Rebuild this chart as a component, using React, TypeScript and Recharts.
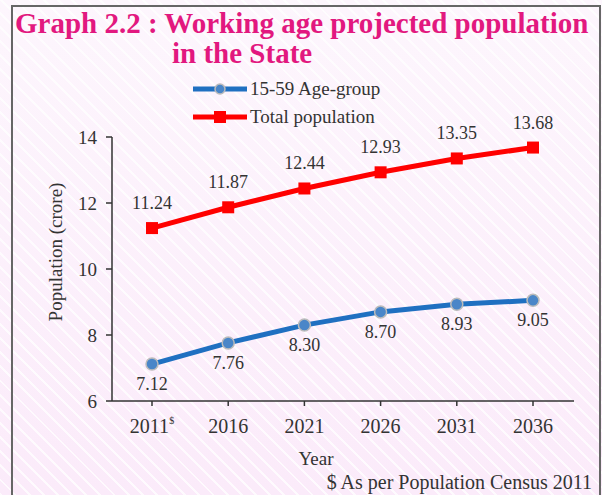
import React from 'react';
import { LineChart, Line, XAxis, YAxis, LabelList } from 'recharts';

const years = ['2011', '2016', '2021', '2026', '2031', '2036'];
const ageGroup = [7.12, 7.76, 8.3, 8.7, 8.93, 9.05];
const totalPop = [11.24, 11.87, 12.44, 12.93, 13.35, 13.68];
const yTicks = [6, 8, 10, 12, 14];
const censusYear = '2011';

const data = years.map((year, i) => ({ year, ageGroup: ageGroup[i], total: totalPop[i] }));

const serif = '"Liberation Serif", "Times New Roman", serif';
const pink = '#E2187F';
const blue = '#1F70C1';
const red = '#FF0000';
const ink = '#333';

const YearTick = ({ x, y, payload }: any) => (
  <text x={x} y={y} dy="0.71em" textAnchor="middle" fontFamily={serif} fontSize={20} fill={ink}>
    {payload.value}
    {payload.value === censusYear && (
      <tspan dy={-9} fontSize={10}>$</tspan>
    )}
  </text>
);

const SquareDot = (props: any) => {
  const { cx, cy, index } = props;
  return <rect key={`sq-${index}`} x={cx - 6} y={cy - 6} width={12} height={12} fill={red} />;
};

const legendItems = [
  { label: '15-59 Age-group', color: blue, shape: 'circle' },
  { label: 'Total population', color: red, shape: 'square' },
];

const LegendBox = () => (
  <div style={{ position: 'absolute', left: 193, top: 75, fontFamily: serif, fontSize: 19, color: ink }}>
    {legendItems.map((it) => (
      <div key={it.label} style={{ display: 'flex', alignItems: 'center', height: 28 }}>
        <svg width={54} height={14} style={{ marginRight: 3 }}>
          <line x1={0} y1={7} x2={54} y2={7} stroke={it.color} strokeWidth={5} />
          {it.shape === 'circle' ? (
            <circle cx={27} cy={7} r={5} fill="#4A86C8" stroke="#bbb" strokeWidth={1.5} />
          ) : (
            <rect x={21} y={1} width={12} height={12} fill={it.color} />
          )}
        </svg>
        <span>{it.label}</span>
      </div>
    ))}
  </div>
);

export default function App() {
  return (
    <div
      style={{
        position: 'fixed',
        left: 0,
        top: 0,
        width: 602,
        height: 495,
        overflow: 'hidden',
        background:
          'repeating-linear-gradient(45deg, rgba(255,255,255,0.75) 0px, rgba(255,255,255,0.75) 2px, rgba(255,255,255,0) 2px, rgba(255,255,255,0) 10px), linear-gradient(#FDF6FD, #FBEBFA)',
      }}
    >
      <div
        style={{
          position: 'absolute',
          left: 11,
          top: 5,
          width: 586,
          height: 520,
          borderLeft: '2px solid #666',
          borderTop: '2px solid #666',
          borderRight: '2px solid #666',
        }}
      />
      <div
        style={{
          position: 'absolute',
          left: 0,
          top: 8,
          width: 602,
          fontFamily: serif,
          fontWeight: 'bold',
          fontSize: 29,
          color: pink,
          lineHeight: '30px',
        }}
      >
        <div style={{ paddingLeft: 15, whiteSpace: 'nowrap' }}>Graph 2.2 : Working age projected population</div>
        <div style={{ paddingLeft: 172 }}>in the State</div>
      </div>
      <LegendBox />
      <LineChart
        width={602}
        height={495}
        data={data}
        margin={{ top: 137, right: 28, bottom: 64, left: 20 }}
        style={{ position: 'absolute', left: 0, top: 0 }}
      >
        <XAxis
          dataKey="year"
          padding={{ left: 40, right: 41 }}
          axisLine={{ stroke: ink, strokeWidth: 1.5 }}
          tickLine={{ stroke: ink, strokeWidth: 1.5 }}
          tickSize={5}
          tickMargin={13}
          height={30}
          tick={<YearTick />}
          label={{
            content: ({ viewBox }: any) => (
              <text
                x={viewBox.x + viewBox.width / 2 - 27}
                y={viewBox.y + 64}
                textAnchor="middle"
                fontFamily={serif}
                fontSize={19}
                fill={ink}
              >
                Year
              </text>
            ),
          }}
        />
        <YAxis
          domain={[6, 14]}
          ticks={yTicks}
          width={92}
          axisLine={{ stroke: ink, strokeWidth: 1.5 }}
          tickLine={{ stroke: ink, strokeWidth: 1.5 }}
          tickSize={6}
          tickMargin={9}
          tick={{ fontFamily: serif, fontSize: 19, fill: ink }}
          label={{
            content: ({ viewBox }: any) => {
              const cx = viewBox.x + 35;
              const cy = viewBox.y + viewBox.height / 2 - 17;
              return (
                <text
                  x={cx}
                  y={cy}
                  transform={`rotate(-90 ${cx} ${cy})`}
                  textAnchor="middle"
                  dominantBaseline="central"
                  fontFamily={serif}
                  fontSize={19}
                  fill={ink}
                >
                  Population (crore)
                </text>
              );
            },
          }}
        />
        <Line
          dataKey="ageGroup"
          name="15-59 Age-group"
          stroke={blue}
          strokeWidth={5}
          dot={{ r: 6, fill: '#4A86C8', stroke: '#bbb', strokeWidth: 1.5 }}
          isAnimationActive={false}
        >
          <LabelList
            dataKey="ageGroup"
            position="bottom"
            offset={13}
            formatter={(v: any) => Number(v).toFixed(2)}
            style={{ fontFamily: serif, fontSize: 18, fill: ink }}
          />
        </Line>
        <Line
          dataKey="total"
          name="Total population"
          stroke={red}
          strokeWidth={5}
          dot={<SquareDot />}
          isAnimationActive={false}
        >
          <LabelList
            dataKey="total"
            position="top"
            offset={19}
            formatter={(v: any) => Number(v).toFixed(2)}
            style={{ fontFamily: serif, fontSize: 18, fill: ink }}
          />
        </Line>
      </LineChart>
      <div
        style={{
          position: 'absolute',
          right: 10,
          top: 472,
          fontFamily: serif,
          fontSize: 20,
          lineHeight: '20px',
          color: ink,
          whiteSpace: 'nowrap',
        }}
      >
        $ As per Population Census 2011
      </div>
    </div>
  );
}
